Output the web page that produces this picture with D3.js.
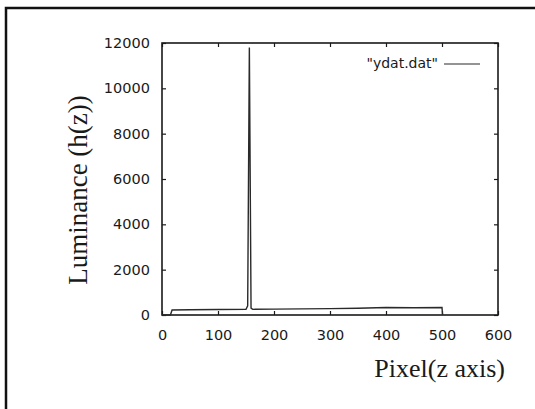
<!DOCTYPE html>
<html>
<head>
<meta charset="utf-8">
<script src="https://cdn.jsdelivr.net/npm/d3@7"></script>
<style>
  body { margin: 0; background: #fff; }
  svg { display: block; }
</style>
</head>
<body>
<div id="chart"></div>
<script>
// data
var pixel = [0, 15, 18, 50, 100, 150, 153, 156, 159, 162, 200, 250, 300, 350, 400, 450, 500, 501];
var luminance = [0, 0, 220, 230, 240, 250, 400, 11800, 300, 250, 260, 270, 280, 300, 330, 320, 330, 0];
var xTicks = [0, 100, 200, 300, 400, 500, 600];
var yTicks = [0, 2000, 4000, 6000, 8000, 10000, 12000];
var seriesName = '"ydat.dat"';

var W = 535, H = 409;
var plotLeft = 162, plotRight = 498, plotTop = 43, plotBottom = 315;

var svg = d3.select("#chart").append("svg")
    .attr("width", W)
    .attr("height", H);

// outer page frame (only left and top edges are in the crop)
svg.append("path")
    .attr("d", "M6,409 L6,8 L535,8")
    .attr("fill", "none")
    .attr("stroke", "#111")
    .attr("stroke-width", 2.5);

var x = d3.scaleLinear().domain([0, 600]).range([plotLeft, plotRight]);
var y = d3.scaleLinear().domain([0, 12000]).range([plotBottom, plotTop]);

var ink = "#1a1a1a";
var tickFont = "'DejaVu Sans', sans-serif";

// ticks point inward on all four sides, like gnuplot
var xAxis = svg.append("g")
    .attr("transform", "translate(0," + plotBottom + ")")
    .call(d3.axisBottom(x).tickValues(xTicks).tickSize(-4).tickPadding(15).tickFormat(d3.format("d")));
var xTop = svg.append("g")
    .attr("transform", "translate(0," + plotTop + ")")
    .call(d3.axisTop(x).tickValues(xTicks).tickSize(-4).tickFormat(""));
var yAxis = svg.append("g")
    .attr("transform", "translate(" + plotLeft + ",0)")
    .call(d3.axisLeft(y).tickValues(yTicks).tickSize(-4).tickPadding(12).tickFormat(d3.format("d")));
var yRight = svg.append("g")
    .attr("transform", "translate(" + plotRight + ",0)")
    .call(d3.axisRight(y).tickValues(yTicks).tickSize(-4).tickFormat(""));

[xAxis, xTop, yAxis, yRight].forEach(function (g) {
    g.select(".domain").remove();
    g.selectAll(".tick line").attr("stroke", ink).attr("stroke-width", 1.2);
    g.selectAll("text")
        .attr("fill", ink)
        .style("font-family", tickFont)
        .style("font-size", "14.5px");
});

// plot border
svg.append("rect")
    .attr("x", plotLeft)
    .attr("y", plotTop)
    .attr("width", plotRight - plotLeft)
    .attr("height", plotBottom - plotTop)
    .attr("fill", "none")
    .attr("stroke", ink)
    .attr("stroke-width", 1.6);

// the series
var pts = pixel.map(function (p, i) { return [p, luminance[i]]; });
var line = d3.line()
    .x(function (d) { return x(d[0]); })
    .y(function (d) { return y(d[1]); });
svg.append("path")
    .datum(pts)
    .attr("d", line)
    .attr("fill", "none")
    .attr("stroke", "#2a2a2a")
    .attr("stroke-width", 1.4);

// legend
svg.append("text")
    .attr("x", 438)
    .attr("y", 68)
    .attr("text-anchor", "end")
    .attr("fill", ink)
    .style("font-family", tickFont)
    .style("font-size", "14px")
    .text(seriesName);
svg.append("line")
    .attr("x1", 444).attr("x2", 480)
    .attr("y1", 64).attr("y2", 64)
    .attr("stroke", "#2a2a2a")
    .attr("stroke-width", 1.2);

// axis titles (serif, as in the figure)
svg.append("text")
    .attr("transform", "translate(87,190) rotate(-90)")
    .attr("text-anchor", "middle")
    .attr("fill", ink)
    .style("font-family", "'Liberation Serif', serif")
    .style("font-size", "27px")
    .text("Luminance (h(z))");
svg.append("text")
    .attr("x", 505)
    .attr("y", 377)
    .attr("text-anchor", "end")
    .attr("fill", ink)
    .style("font-family", "'Liberation Serif', serif")
    .style("font-size", "26px")
    .text("Pixel(z axis)");
</script>
</body>
</html>
